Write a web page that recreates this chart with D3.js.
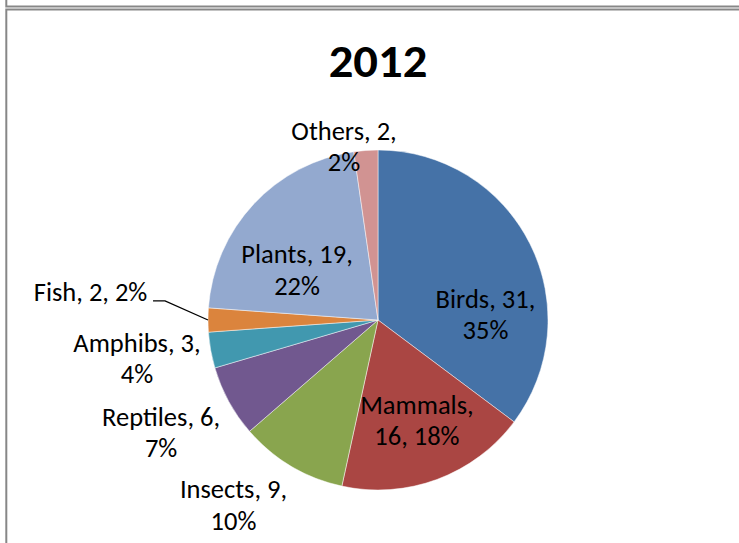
<!DOCTYPE html>
<html>
<head>
<meta charset="utf-8">
<script src="https://cdn.jsdelivr.net/npm/d3@7"></script>
<style>
  body { margin: 0; background: #fff; }
  svg text { font-family: Carlito, Calibri, Lato, sans-serif; fill: #000; }
</style>
</head>
<body>
<script>
// data
let categories = ['Birds', 'Mammals', 'Insects', 'Reptiles', 'Amphibs', 'Fish', 'Plants', 'Others'];
let counts = [31, 16, 9, 6, 3, 2, 19, 2];
let percents = ['35%', '18%', '10%', '7%', '4%', '2%', '22%', '2%'];
let colours = ['#4572A7', '#AA4643', '#89A54E', '#71588F', '#4198AF', '#DB843D', '#93A9CF', '#D19392'];

// where excel's "best fit" put each label, in pie-radius units from the centre
let labelOffset = [[0.632, -0.028], [0.229, 0.594], [-0.85, 1.09], [-1.276, 0.665], [-1.418, 0.229], [-1.691, -0.16], [-0.476, -0.291], [-0.2, -1.018]];
// how the label text is broken over lines
let labelLines = [
  ['Birds, 31,', '35%'],
  ['Mammals,', '16, 18%'],
  ['Insects, 9,', '10%'],
  ['Reptiles, 6,', '7%'],
  ['Amphibs, 3,', '4%'],
  ['Fish, 2, 2%'],
  ['Plants, 19,', '22%'],
  ['Others, 2,', '2%']
];

let W = 739, H = 543;
let cx = 378, cy = 320, radius = 170;
let lineH = 31.5;

let svg = d3.select('body').append('svg').attr('width', W).attr('height', H);

// frames
let frame = svg.append('g').attr('fill', 'none').attr('stroke', '#878787');
frame.append('path').attr('d', 'M6.3,0 V6.5 H' + W).attr('stroke-width', 2);
frame.append('path').attr('d', 'M' + W + ',9.6 H6.3 V' + H).attr('stroke-width', 2);

svg.append('text')
  .attr('transform', 'translate(378,76.5) scale(1.07,1)')
  .attr('text-anchor', 'middle')
  .style('font-weight', 'bold')
  .style('font-size', '45.5px')
  .text('2012');

let pie = d3.pie().sort(null).value(function(d) { return d; });
let arcs = pie(counts);
let arc = d3.arc().innerRadius(0).outerRadius(radius);

let g = svg.append('g').attr('transform', 'translate(' + cx + ',' + cy + ')');

g.selectAll('path.slice').data(arcs).enter().append('path')
  .attr('class', 'slice')
  .attr('d', arc)
  .style('fill', function(d, i) { return colours[i]; })
  .style('stroke', '#fff')
  .style('stroke-opacity', 0.6)
  .style('stroke-width', 0.8);

// leader for the fish label
let fishArc = arcs[5];
let mid = (fishArc.startAngle + fishArc.endAngle) / 2;
let ex = radius * Math.sin(mid), ey = -radius * Math.cos(mid);
let fx = labelOffset[5][0] * radius, fy = labelOffset[5][1] * radius;
g.append('path')
  .attr('d', 'M' + (fx + 62.5) + ',' + (fy + 8) + ' h12 L' + ex + ',' + ey)
  .attr('fill', 'none').attr('stroke', '#000').attr('stroke-width', 1.3);

let labels = g.selectAll('text.lbl').data(arcs).enter().append('text')
  .attr('class', 'lbl')
  .attr('text-anchor', 'middle')
  .style('font-size', '26.5px')
  .attr('transform', function(d, i) {
    return 'translate(' + labelOffset[i][0] * radius + ',' + labelOffset[i][1] * radius + ')';
  });

labels.each(function(d, i) {
  let lines = labelLines[i];
  let top = -(lines.length - 1) * lineH / 2;
  d3.select(this).selectAll('tspan').data(lines).enter().append('tspan')
    .attr('x', 0)
    .attr('y', function(l, k) { return top + k * lineH + 8.5; })
    .text(function(l) { return l; });
});
</script>
</body>
</html>
